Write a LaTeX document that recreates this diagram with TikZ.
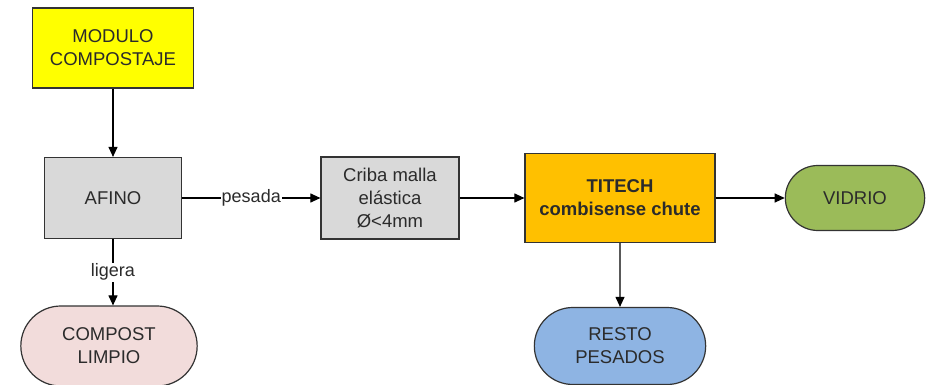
\documentclass[tikz,border=0pt]{standalone}
\usepackage{fontspec}
\setmainfont{Liberation Sans}
\usetikzlibrary{arrows.meta,shapes.misc,positioning}

\definecolor{modyellow}{HTML}{FFFF00}
\definecolor{boxgrey}{HTML}{D9D9D9}
\definecolor{titorange}{HTML}{FFC000}
\definecolor{vidgreen}{HTML}{9BBB59}
\definecolor{restblue}{HTML}{8EB4E3}
\definecolor{comppink}{HTML}{F2DCDB}
\definecolor{txtdark}{HTML}{2B2B2B}

\tikzset{
  procbox/.style={draw=black!80,line width=1.2pt,rectangle,align=center,
                  font=\fontsize{18.5}{23}\selectfont,text=txtdark},
  endbox/.style={draw=black!80,line width=1.2pt,rounded rectangle,align=center,
                 font=\fontsize{18.5}{23}\selectfont,text=txtdark},
  flowlabel/.style={fill=white,inner sep=1pt,font=\fontsize{18}{22}\selectfont,text=txtdark}
}

\begin{document}
\begin{tikzpicture}[x=1pt,y=-1pt,->,>={Triangle[length=10pt,width=9pt]},line width=1.1pt]

  \useasboundingbox (0,0) rectangle (929,385);

  \node[procbox,fill=modyellow,minimum width=161pt,minimum height=80pt] (modulo) at (113,48) {MODULO\\COMPOSTAJE};
  \node[procbox,fill=boxgrey,minimum width=137pt,minimum height=81pt] (afino) [below of=modulo,node distance=150pt] {AFINO};
  \node[endbox,fill=comppink,minimum width=183pt,minimum height=80pt] (compost) [below of=afino,node distance=148pt,xshift=-4pt] {COMPOST\\LIMPIO};
  \node[procbox,fill=boxgrey,minimum width=138pt,minimum height=82pt] (criba) [right of=afino,node distance=277pt] {Criba malla\\elástica\\Ø<4mm};
  \node[procbox,fill=titorange,minimum width=190pt,minimum height=89pt,font=\fontsize{18.5}{23}\selectfont\bfseries] (titech) [right of=criba,node distance=230pt] {TITECH\\combisense chute};
  \node[endbox,fill=vidgreen,minimum width=146pt,minimum height=65pt] (vidrio) [right of=titech,node distance=235pt] {VIDRIO};
  \node[endbox,fill=restblue,minimum width=178pt,minimum height=77pt] (resto) [below of=titech,node distance=148pt] {RESTO\\PESADOS};

  \draw (modulo) -- (afino);
  \draw (afino) -- node[flowlabel] {pesada} (criba);
  \draw (afino.south) -- node[flowlabel] {ligera} (afino.south |- compost.north);
  \draw (criba) -- (titech);
  \draw (titech) -- (vidrio);
  \draw (titech) -- (resto);

\end{tikzpicture}
\end{document}
